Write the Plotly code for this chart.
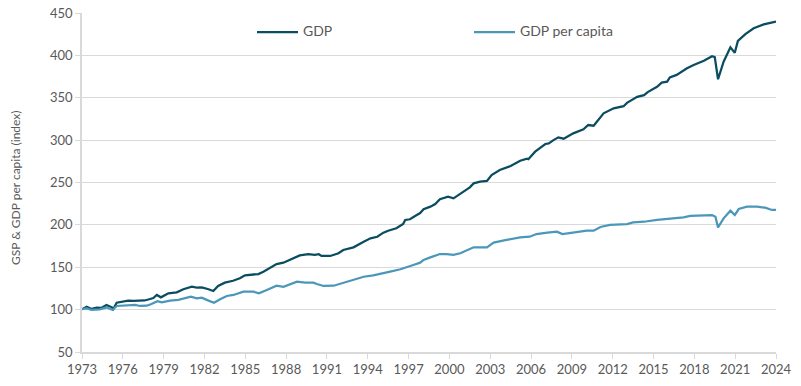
import plotly.graph_objects as go

gdp_x = [1973.0, 1973.35, 1973.7, 1974.08, 1974.45, 1974.8, 1975.2, 1975.3, 1975.55, 1976.04,
         1976.4, 1976.77, 1977.14, 1977.6, 1978.0, 1978.24, 1978.5, 1978.8, 1979.35, 1979.96,
         1980.45, 1981.07, 1981.43, 1981.8, 1982.3, 1982.65, 1983.0, 1983.5, 1984.1, 1984.6,
         1984.98, 1985.35, 1985.96, 1986.33, 1986.95, 1987.3, 1987.8, 1988.54, 1989.0, 1989.64,
         1990.1, 1990.4, 1990.6, 1991.24, 1991.85, 1992.2, 1992.95, 1993.7, 1994.2, 1994.7,
         1995.15, 1995.5, 1996.1, 1996.6, 1996.75, 1997.1, 1997.35, 1997.6, 1997.85, 1998.1,
         1998.6, 1998.96, 1999.3, 1999.9, 2000.3, 2001.0, 2001.5, 2001.78, 2002.26, 2002.76,
         2003.1, 2003.7, 2004.5, 2005.2, 2005.7, 2005.8, 2006.3, 2007.05, 2007.3, 2007.65,
         2008.0, 2008.4, 2009.1, 2009.85, 2010.2, 2010.6, 2011.1, 2011.33, 2012.07, 2012.8,
         2013.05, 2013.8, 2014.3, 2014.6, 2015.26, 2015.6, 2016.0, 2016.2, 2016.7, 2017.46,
         2017.95, 2018.7, 2019.3, 2019.5, 2019.74, 2020.15, 2020.65, 2020.97, 2021.2, 2021.75,
         2022.36, 2023.1, 2024.0]
gdp_y = [100.5, 103.3, 100.8, 102.3, 102.2, 105.5, 102.7, 100.7, 108.2, 109.4,
         110.6, 110.4, 110.6, 110.8, 112.5, 113.7, 117.3, 114.5, 119.2, 120.4,
         124.0, 127.0, 125.9, 126.3, 124.0, 122.0, 127.9, 131.8, 134.1, 137.0,
         140.5, 141.2, 142.0, 144.8, 150.0, 153.8, 155.4, 160.6, 164.0, 165.6,
         164.5, 165.4, 163.3, 163.3, 166.5, 170.4, 173.5, 180.2, 184.1, 186.0,
         190.8, 193.1, 196.0, 201.0, 205.8, 206.6, 209.6, 211.6, 214.0, 218.4,
         221.5, 224.6, 230.2, 233.3, 231.3, 239.2, 244.3, 249.0, 251.0, 251.8,
         258.8, 264.7, 269.5, 275.7, 278.0, 277.4, 286.4, 295.4, 296.2, 300.0,
         303.3, 301.7, 308.0, 312.7, 317.8, 317.0, 327.6, 331.6, 337.5, 340.0,
         344.0, 351.0, 353.0, 357.0, 363.0, 367.8, 369.0, 374.0, 377.0, 384.7,
         388.6, 393.7, 399.0, 398.0, 371.8, 392.5, 409.5, 403.0, 417.0, 425.0,
         432.0, 436.6, 440.0]

pc_x = [1973.0, 1973.35, 1973.7, 1974.3, 1974.8, 1975.25, 1975.55, 1976.3, 1976.9, 1977.26,
        1977.76, 1978.1, 1978.54, 1978.86, 1979.47, 1980.08, 1980.57, 1981.0, 1981.43, 1981.8,
        1982.3, 1982.7, 1983.15, 1983.64, 1984.13, 1984.6, 1984.86, 1985.6, 1986.0, 1986.58,
        1987.3, 1987.8, 1988.8, 1989.4, 1990.0, 1990.26, 1990.75, 1991.5, 1992.1, 1992.7,
        1993.7, 1994.4, 1994.9, 1995.65, 1996.4, 1996.9, 1997.35, 1997.85, 1998.1, 1998.6,
        1999.3, 1999.8, 2000.3, 2000.8, 2001.78, 2002.76, 2003.25, 2004.2, 2005.2, 2005.9,
        2006.4, 2007.2, 2007.9, 2008.3, 2009.1, 2010.1, 2010.6, 2011.1, 2011.8, 2013.05,
        2013.5, 2014.3, 2015.26, 2016.5, 2017.2, 2017.7, 2018.9, 2019.3, 2019.55, 2019.74,
        2020.15, 2020.65, 2020.97, 2021.26, 2021.87, 2022.6, 2023.2, 2023.7, 2024.0]
pc_y = [100.5, 101.5, 99.6, 100.4, 102.7, 99.6, 104.3, 104.6, 105.5, 104.3,
        104.6, 106.6, 110.0, 108.6, 110.6, 111.4, 113.4, 115.3, 113.4, 114.1,
        110.6, 108.2, 112.2, 116.1, 117.3, 120.0, 121.2, 121.2, 119.2, 123.2,
        128.2, 127.0, 133.0, 131.8, 131.8, 130.2, 127.9, 128.2, 131.0, 134.1,
        138.8, 140.5, 142.0, 144.8, 147.6, 150.7, 152.7, 155.4, 158.6, 161.7,
        165.6, 165.6, 164.5, 166.5, 173.5, 173.5, 179.0, 182.2, 185.3, 186.0,
        189.2, 190.8, 192.0, 189.2, 190.8, 193.1, 193.1, 197.5, 199.9, 201.0,
        203.0, 203.7, 205.8, 207.7, 208.9, 210.5, 210.8, 211.6, 209.6, 197.0,
        207.7, 216.7, 211.6, 218.7, 221.4, 221.4, 220.3, 217.6, 217.6]

series_names = ["GDP", "GDP per capita"]
series_colors = ["#0b4d60", "#4b97b9"]
x_ticks = list(range(1973, 2025, 3))
y_ticks = list(range(50, 451, 50))
y_title = "GSP & GDP per capita (index)"

font_family = "Lato"
grey = "#595959"
grid = "#d9d9d9"

W, H = 801, 386
ML, MR, MT, MB = 82, 25, 13, 34
PW, PH = W - ML - MR, H - MT - MB

def px_x(p):
    return (p - ML) / PW

def px_y(p):
    return 1 - (p - MT) / PH

fig = go.Figure()
fig.add_trace(go.Scatter(x=gdp_x, y=gdp_y, mode="lines", name=series_names[0],
                         line=dict(color=series_colors[0], width=2.25)))
fig.add_trace(go.Scatter(x=pc_x, y=pc_y, mode="lines", name=series_names[1],
                         line=dict(color=series_colors[1], width=2.25)))

# custom legend (line sample + label), positioned like the original
legend_pos = [(257, 298), (474, 515)]
shapes = []
annotations = []
for (x0, x1), name, col in zip(legend_pos, series_names, series_colors):
    shapes.append(dict(type="line", xref="paper", yref="paper",
                       x0=px_x(x0), x1=px_x(x1), y0=px_y(32), y1=px_y(32),
                       line=dict(color=col, width=2.25)))
    annotations.append(dict(text=name, xref="paper", yref="paper",
                            x=px_x(x1 + 3), y=px_y(31), xanchor="left", yanchor="middle",
                            showarrow=False, font=dict(family=font_family, size=14, color=grey)))

annotations.append(dict(text=y_title, xref="paper", yref="paper",
                        x=px_x(16), y=px_y(188), xanchor="center", yanchor="middle",
                        textangle=-90, showarrow=False,
                        font=dict(family=font_family, size=12, color=grey)))

fig.update_layout(
    width=W, height=H,
    margin=dict(l=ML, r=MR, t=MT, b=MB),
    paper_bgcolor="white", plot_bgcolor="white",
    font=dict(family=font_family, size=12, color=grey),
    showlegend=False,
    shapes=shapes,
    annotations=annotations,
    xaxis=dict(range=[1973, 2024], tickmode="array", tickvals=x_ticks,
               ticktext=[str(v) for v in x_ticks], showgrid=False,
               showline=True, linecolor=grid, linewidth=1.5,
               ticks="outside", ticklen=5, tickcolor=grid, tickwidth=1,
               tickfont=dict(family=font_family, size=13, color=grey),
               zeroline=False, automargin=False),
    yaxis=dict(range=[50, 450], tickmode="array", tickvals=y_ticks,
               showgrid=True, gridcolor=grid, gridwidth=1,
               showline=True, linecolor=grid, linewidth=1.5,
               ticks="outside", ticklen=5, tickcolor=grid, tickwidth=1,
               tickfont=dict(family=font_family, size=13, color=grey),
               zeroline=False, automargin=False),
)

fig.write_html("out.html", config={"displayModeBar": False},
               post_script="document.body.style.margin='0';document.body.style.padding='0';")
